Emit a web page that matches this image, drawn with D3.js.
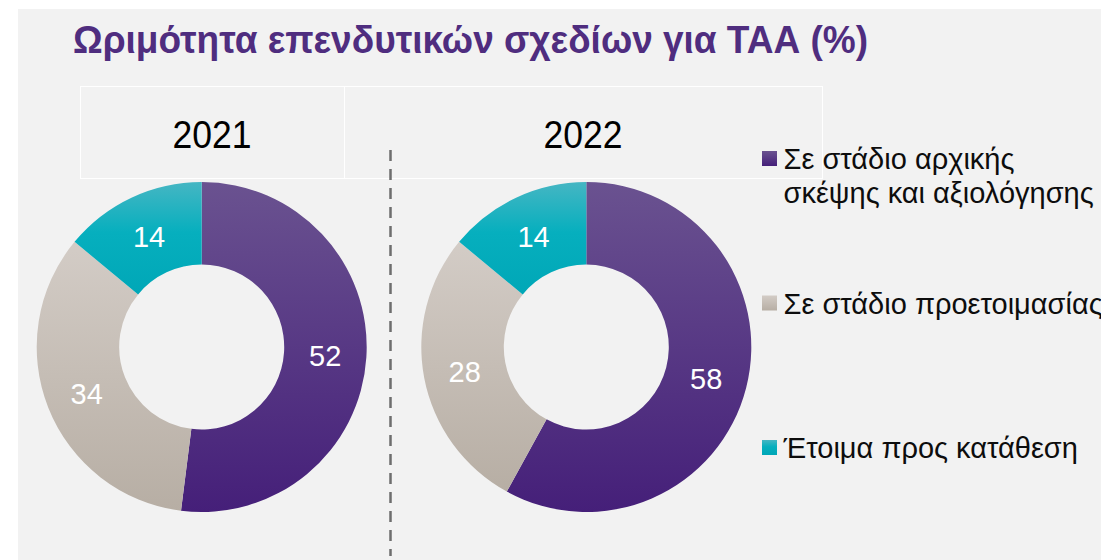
<!DOCTYPE html>
<html>
<head>
<meta charset="utf-8">
<script src="https://cdn.jsdelivr.net/npm/d3@7"></script>
<style>
html,body{margin:0;padding:0;background:#fff;}
svg{display:block;}
text{font-family:"Liberation Sans",Arial,sans-serif;}
</style>
</head>
<body>
<svg id="chart" width="1101" height="560"></svg>
<script>
// ---- data ----
const title = "Ωριμότητα επενδυτικών σχεδίων για ΤΑΑ (%)";
const years = ["2021", "2022"];
const categories = ["Σε στάδιο αρχικής σκέψης και αξιολόγησης", "Σε στάδιο προετοιμασίας", "Έτοιμα προς κατάθεση"];
const legendLines = [["Σε στάδιο αρχικής", "σκέψης και αξιολόγησης"], ["Σε στάδιο προετοιμασίας"], ["Έτοιμα προς κατάθεση"]];
const values2021 = [52, 34, 14];
const values2022 = [58, 28, 14];
const seriesByYear = [values2021, values2022];

// ---- styles ----
const gradStops = [
  [[0, "#6a5290"], [1, "#451f79"]],
  [[0, "#d3ccc6"], [1, "#b7aea4"]],
  [[0, "#45b6c3"], [0.45, "#06afbe"], [1, "#00a7b7"]]
];

const svg = d3.select("#chart");
// background panel
svg.append("rect").attr("x", 18).attr("y", 9).attr("width", 1101 - 18).attr("height", 560 - 9).attr("fill", "#f2f2f2");

const defs = svg.append("defs");
gradStops.forEach((stops, i) => {
  const g = defs.append("linearGradient").attr("id", "g" + i)
    .attr("x1", 0).attr("y1", 0).attr("x2", 0).attr("y2", 1);
  stops.forEach(s => g.append("stop").attr("offset", s[0]).attr("stop-color", s[1]));
});

// title
svg.append("text").attr("x", 73).attr("y", 53)
  .attr("font-size", 39).attr("font-weight", "bold").attr("fill", "#4f2d7f")
  .attr("textLength", 795).attr("lengthAdjust", "spacingAndGlyphs")
  .text(title);

// header cells
const cellBounds = [[80, 344], [344, 822]];
const hdr = svg.append("g");
hdr.append("rect").attr("x", 80.5).attr("y", 86.5).attr("width", 822 - 80).attr("height", 178 - 86)
  .attr("fill", "none").attr("stroke", "#ffffff").attr("stroke-width", 1);
hdr.append("line").attr("x1", 344.5).attr("x2", 344.5).attr("y1", 86.5).attr("y2", 178.5)
  .attr("stroke", "#ffffff").attr("stroke-width", 1);
years.forEach((y, i) => {
  const cx = (cellBounds[i][0] + cellBounds[i][1]) / 2;
  hdr.append("text").attr("x", cx).attr("y", 147.5).attr("text-anchor", "middle")
    .attr("font-size", 38).attr("fill", "#000")
    .attr("textLength", 79).attr("lengthAdjust", "spacingAndGlyphs")
    .text(y);
});

// dashed divider
svg.append("line").attr("x1", 390.5).attr("x2", 390.5).attr("y1", 150).attr("y2", 556)
  .attr("stroke", "#6e6e6e").attr("stroke-width", 2.5).attr("stroke-dasharray", "11 8");

// donuts
const centers = [[201.7, 347], [586.3, 347]];
const outerR = 165, innerR = 82.5;
const pie = d3.pie().sort(null).value(d => d);
const arc = d3.arc().innerRadius(innerR).outerRadius(outerR);
const labelArc = d3.arc().innerRadius((innerR + outerR) / 2).outerRadius((innerR + outerR) / 2);

seriesByYear.forEach((vals, yi) => {
  const g = svg.append("g").attr("transform", `translate(${centers[yi][0]},${centers[yi][1]})`);
  const arcs = pie(vals);
  g.selectAll("path").data(arcs).join("path")
    .attr("d", arc)
    .attr("fill", (d, i) => `url(#g${i})`);
  g.selectAll("text").data(arcs).join("text")
    .attr("transform", d => `translate(${labelArc.centroid(d)})`)
    .attr("text-anchor", "middle").attr("dy", "0.4em")
    .attr("font-size", 29).attr("fill", "#ffffff")
    .text(d => d.data);
});

// legend
const legendY = d3.scalePoint().domain(categories).range([169.3, 458.3]);
const lg = svg.append("g");
categories.forEach((c, i) => {
  const by = legendY(c);
  lg.append("rect").attr("x", 762).attr("y", by - 18.3).attr("width", 15).attr("height", 15)
    .attr("fill", `url(#g${i})`);
  const t = lg.append("text").attr("x", 783.5).attr("y", by).attr("font-size", 29).attr("fill", "#0d0d0d");
  legendLines[i].forEach((line, li) => {
    t.append("tspan").attr("x", 783.5).attr("y", by + li * 33.4).text(line);
  });
});
</script>
</body>
</html>
